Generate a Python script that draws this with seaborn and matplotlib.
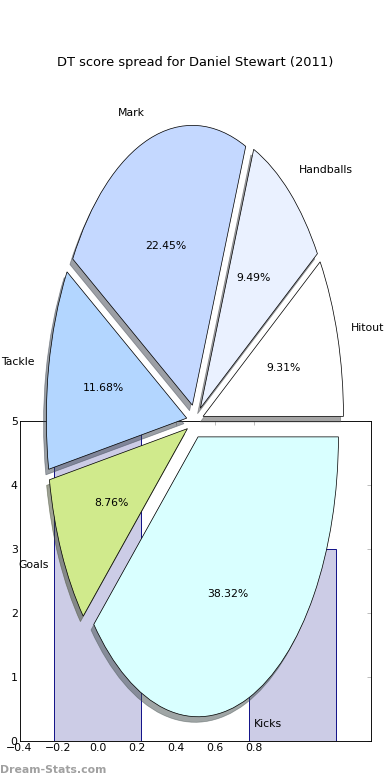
"""
DT score spread pie for Daniel Stewart (2011), drawn over a small bar chart
"""

import matplotlib
matplotlib.use("Agg")
import matplotlib.pyplot as plt
import seaborn as sns

# Data
slice_labels = ['Hitout', 'Handballs', 'Mark', 'Tackle', 'Goals', 'Kicks']
slice_values = [9.31, 9.49, 22.45, 11.68, 8.76, 38.32]
slice_colors = ['#ffffff', '#eaf1ff', '#c4d8ff', '#b3d6ff', '#d0ea8c', '#d9ffff']
explode = [0.06] * 6

bar_pos = [0, 1]
bar_heights = [5, 3]
x_ticks = [-0.4, -0.2, 0.0, 0.2, 0.4, 0.6, 0.8]
y_ticks = [0, 1, 2, 3, 4, 5]

TITLE = 'DT score spread for Daniel Stewart (2011)'
WATERMARK = 'Dream-Stats.com'

sns.set_style('white')
plt.rcParams['font.family'] = ['DejaVu Sans']
plt.rcParams['font.size'] = 12
plt.rcParams['text.color'] = 'black'
plt.rcParams['axes.labelcolor'] = 'black'
plt.rcParams['xtick.labelcolor'] = 'black'
plt.rcParams['ytick.labelcolor'] = 'black'

fig = plt.figure(figsize=(6, 12), dpi=65)

# Bar axes underneath
ax_bar = fig.add_axes([0.05, 0.05, 0.9, 0.41])
sns.barplot(x=bar_pos, y=bar_heights, native_scale=True, width=0.45,
            color='#ccccE6', saturation=1, edgecolor='navy', linewidth=1,
            ax=ax_bar)
ax_bar.set_xlim(-0.4, 1.4)
ax_bar.set_ylim(0, 5)
ax_bar.set_xticks(x_ticks)
ax_bar.set_xticklabels([f'{t:.1f}'.replace('-', '\u2212') for t in x_ticks])
ax_bar.set_yticks(y_ticks)
ax_bar.set_xlabel('')
ax_bar.set_ylabel('')
ax_bar.tick_params(direction='in', length=4, width=0.6, color='#888888',
                   labelcolor='black', top=True, right=True, labelsize=12,
                   pad=2)
for spine in ax_bar.spines.values():
    spine.set_visible(True)
    spine.set_color('black')
    spine.set_linewidth(1)

# Pie axes on top
ax_pie = fig.add_axes([0.05, 0.0115, 0.9, 0.897])
ax_pie.pie(slice_values, labels=slice_labels, colors=slice_colors,
           explode=explode, autopct='%1.2f%%', startangle=0,
           labeldistance=1.1, pctdistance=0.6,
           shadow={'ox': -0.022, 'oy': -0.022, 'shade': 0.7},
           wedgeprops={'edgecolor': 'black', 'linewidth': 0.8},
           textprops={'fontsize': 12, 'color': 'black'})
ax_pie.set_aspect('auto')
ax_pie.set_xlim(-1.25, 1.25)
ax_pie.set_ylim(-1.25, 1.25)
ax_pie.set_title(TITLE, fontsize=14.4, color='black')

fig.text(0.0, 0.0128, WATERMARK, color='#a0a0a0', fontsize=12,
         fontweight='bold', ha='left', va='center')

fig.savefig('out.png', dpi=65, facecolor='white')
